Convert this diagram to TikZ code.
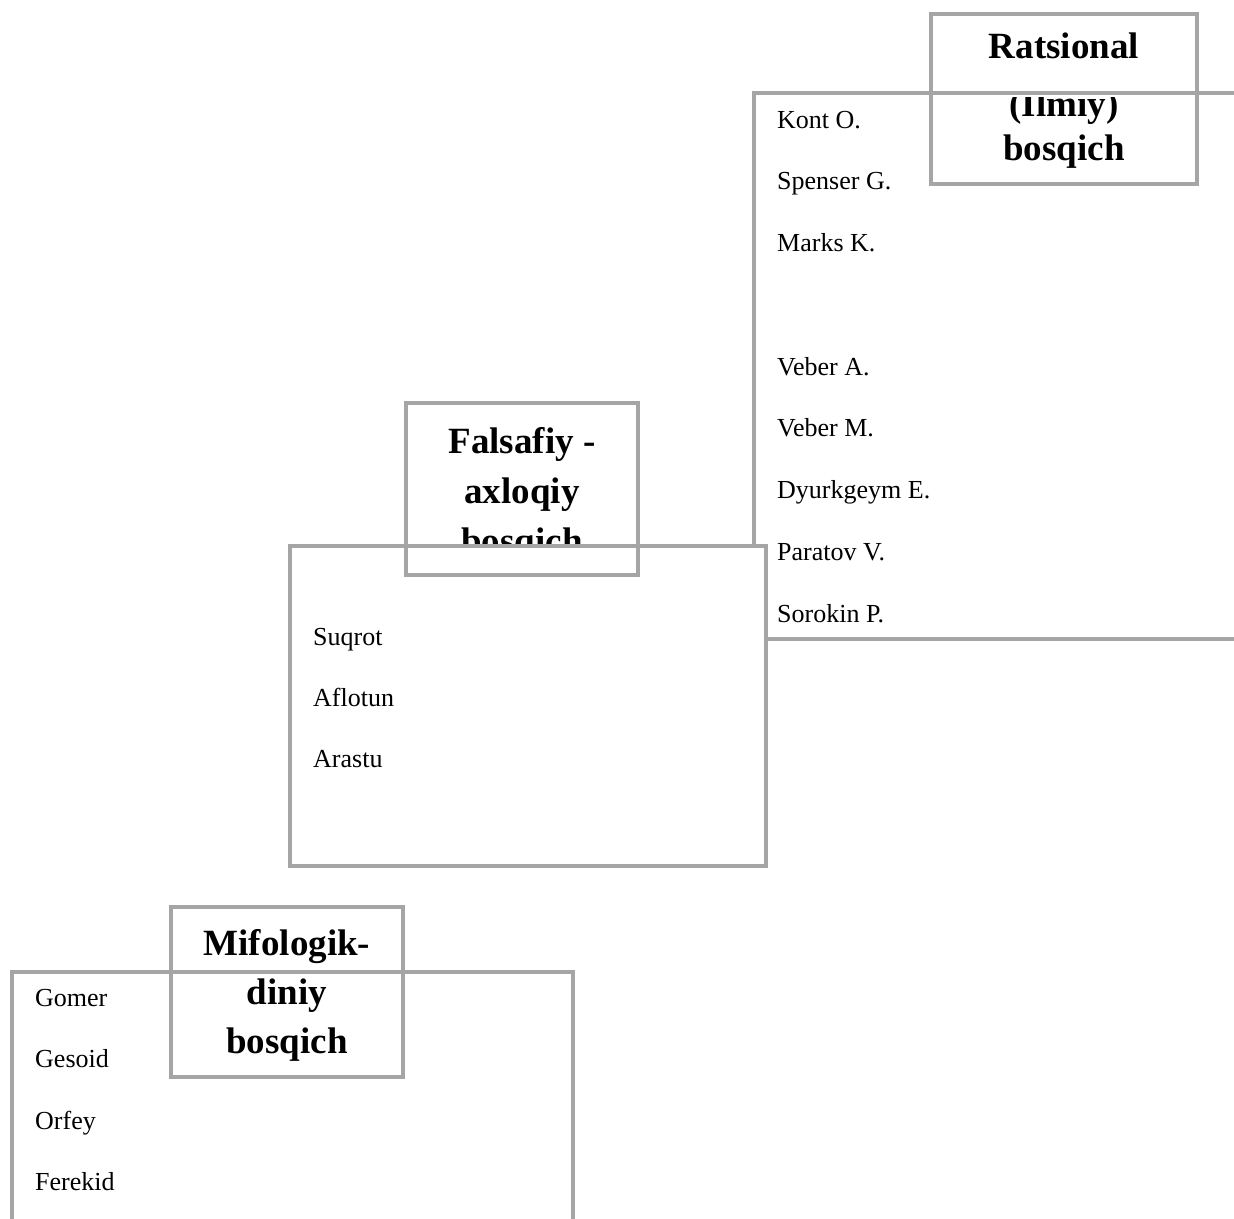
\documentclass[tikz,border=0pt]{standalone}
\usepackage{fontspec}
\setmainfont{Liberation Serif}
\definecolor{framegray}{HTML}{A5A5A5}
\tikzset{
  frame/.style={draw=framegray, line width=4.5pt, rectangle, inner sep=0pt},
  whiteframe/.style={frame, fill=white},
  titletext/.style={anchor=base, inner sep=0pt, font=\bfseries\fontsize{37}{44}\selectfont},
  itemtext/.style={anchor=base west, inner sep=0pt, font=\fontsize{26}{30}\selectfont},
}
\begin{document}
\begin{tikzpicture}[x=1pt, y=-1pt]
\useasboundingbox (0,0) rectangle (1234,1218);
\fill[white] (0,0) rectangle (1234,1218);
\clip (0,0) rectangle (1234,1218);

% --- Ratsional (ilmiy) stage ---
\node[titletext] (r1) at (1064,58) {Ratsional};
\begin{scope}
  \clip (931,97.5) rectangle (1197,200);
  \node[titletext] (r2) at (1064,116) {(Ilmiy)};
\end{scope}
\node[titletext] (r3) at (1064,160) {bosqich};
\node[frame, minimum width=506pt, minimum height=546pt] (rbig) at (1007,366) {};
\node[frame, minimum width=266pt, minimum height=170pt] (rtitle) at (1064,99) {};

\node[itemtext] (kont) at (777,128) {Kont O.};
\node[itemtext] (spenser) at (777,189.75) {Spenser G.};
\node[itemtext] (marks) at (777,251.5) {Marks K.};
\node[itemtext] (vebera) at (777,375) {Veber A.};
\node[itemtext] (veberm) at (777,436.75) {Veber M.};
\node[itemtext] (dyurk) at (777,498.5) {Dyurkgeym E.};
\node[itemtext] (paratov) at (777,560.25) {Paratov V.};
\node[itemtext] (sorokin) at (777,622) {Sorokin P.};

% --- Falsafiy-axloqiy stage ---
\node[titletext] (f1) at (522,453) {Falsafiy -};
\node[titletext] (f2) at (522,503) {axloqiy};
\node[titletext] (f3) at (522,553) {bosqich};
\node[whiteframe, minimum width=476pt, minimum height=320pt] (fbig) at (528,706) {};
\node[frame, minimum width=232pt, minimum height=172pt] (ftitle) at (522,489) {};

\node[itemtext] (suqrot) at (313,645) {Suqrot};
\node[itemtext] (aflotun) at (313,706) {Aflotun};
\node[itemtext] (arastu) at (313,767) {Arastu};

% --- Mifologik-diniy stage ---
\node[frame, minimum width=561pt, minimum height=268pt] (mbig) at (292.5,1106) {};
\node[frame, minimum width=232pt, minimum height=170pt] (mtitle) at (287,992) {};
\node[titletext] (m1) at (287,955) {Mifologik-};
\node[titletext] (m2) at (287,1004) {diniy};
\node[titletext] (m3) at (287,1053) {bosqich};

\node[itemtext] (gomer) at (35,1006) {Gomer};
\node[itemtext] (gesoid) at (35,1067.5) {Gesoid};
\node[itemtext] (orfey) at (35,1129) {Orfey};
\node[itemtext] (ferekid) at (35,1190.5) {Ferekid};
\end{tikzpicture}
\end{document}
